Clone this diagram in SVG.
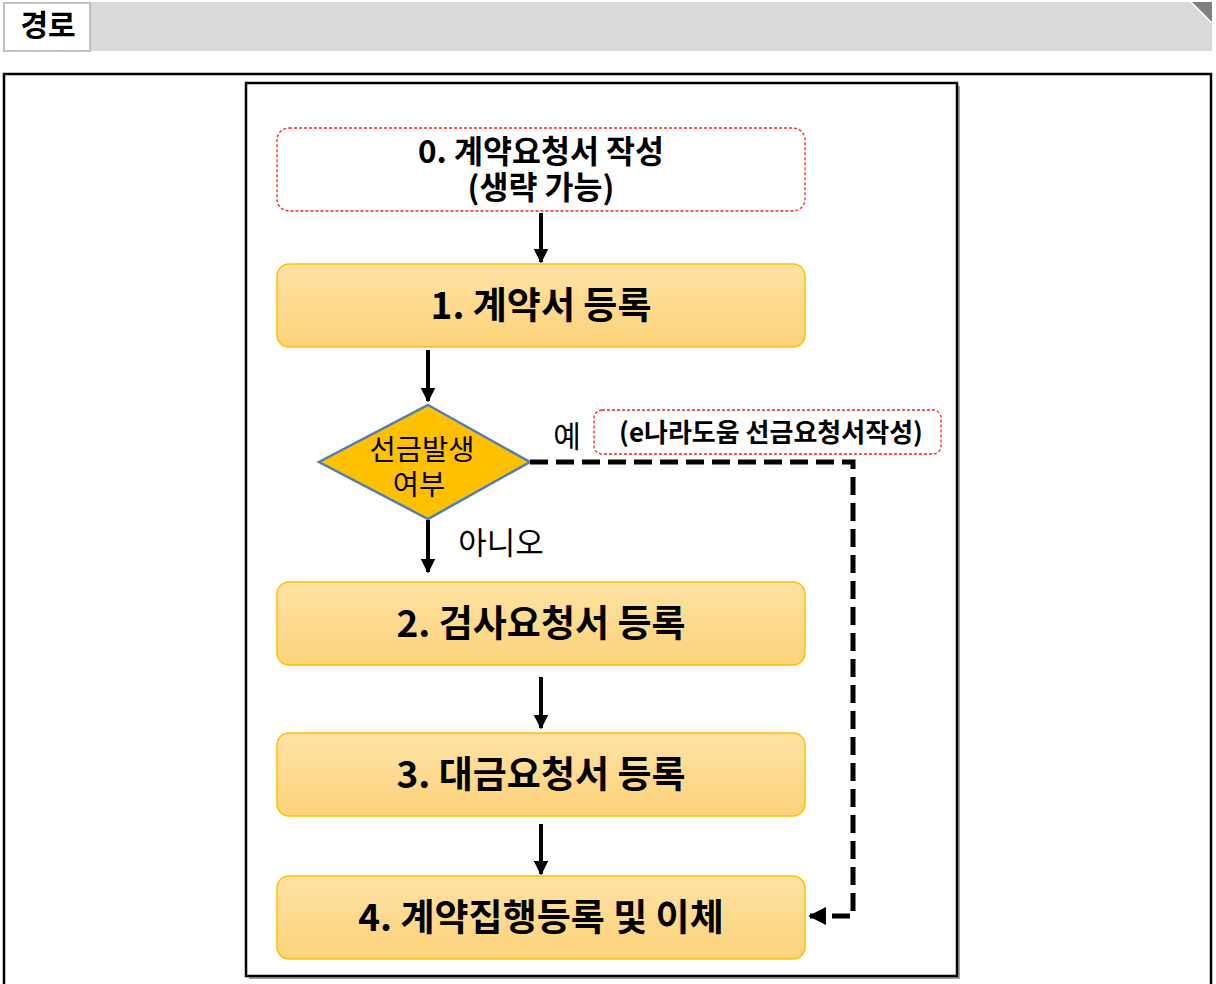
<svg xmlns="http://www.w3.org/2000/svg" width="1216" height="984" viewBox="0 0 1216 984">
<defs>
<linearGradient id="g" x1="0" y1="0" x2="0" y2="1">
<stop offset="0" stop-color="#fee2a4"/>
<stop offset="1" stop-color="#fdd27a"/>
</linearGradient>
<marker id="ah" viewBox="0 0 10 10" refX="9" refY="5" markerWidth="3.6" markerHeight="3.6" orient="auto" markerUnits="strokeWidth">
<path d="M0,0 L10,5 L0,10 z" fill="#000"/>
</marker>
<style>
.t{font-family:"Noto Sans CJK KR","Noto Sans",sans-serif;fill:#000;text-anchor:middle}
.box{fill:url(#g);stroke:#ffc000;stroke-width:1.5}
.dash{fill:#fff;stroke:#ff2020;stroke-width:1.3;stroke-dasharray:3 2}
.big{font-size:37px;font-weight:700}
.c{stroke:#000;stroke-width:4;fill:none}
</style>
</defs>
<rect width="1216" height="984" fill="#fff"/>
<g id="header">
<path d="M3,2 H1190 L1212,24 V51 H3 z" fill="#d9d9d9"/>
<path d="M1192,2 H1212 V22 z" fill="#808080"/>
<rect x="4" y="3" width="86" height="48" fill="#fff" stroke="#c0c0c0" stroke-width="2"/>
<text class="t" x="48" y="36" font-size="30" font-weight="700">경로</text>
</g>
<rect x="4" y="74" width="1207" height="914" fill="none" stroke="#000" stroke-width="2.5"/>
<rect x="249" y="86" width="711" height="893" fill="#a0a0a0"/>
<rect x="246" y="83" width="711" height="893" fill="#fff" stroke="#000" stroke-width="2.5"/>
<g id="n0">
<rect class="dash" x="277" y="128" width="528" height="83" rx="12"/>
<text class="t" font-size="31.5" font-weight="700"><tspan x="541" y="163">0. 계약요청서 작성</tspan><tspan x="541" y="199">(생략 가능)</tspan></text>
</g>
<g id="n1">
<rect class="box" x="277" y="264" width="528" height="83" rx="12"/>
<text class="t big" x="541" y="319">1. 계약서 등록</text>
</g>
<g id="d">
<polygon points="428,405 530,462 428,519 319,462" fill="#ffc000" stroke="#4f7fb3" stroke-width="2.5"/>
<text class="t" font-size="28.5"><tspan x="422" y="460">선금발생</tspan><tspan x="419" y="495">여부</tspan></text>
</g>
<g id="n1b">
<rect class="dash" x="594" y="410" width="347" height="44" rx="8"/>
<text class="t" x="771" y="442" font-size="26" font-weight="700">(e나라도움 선금요청서작성)</text>
</g>
<g id="n2">
<rect class="box" x="277" y="582" width="528" height="83" rx="12"/>
<text class="t big" x="541" y="637">2. 검사요청서 등록</text>
</g>
<g id="n3">
<rect class="box" x="277" y="733" width="528" height="83" rx="12"/>
<text class="t big" x="541" y="788">3. 대금요청서 등록</text>
</g>
<g id="n4">
<rect class="box" x="277" y="876" width="528" height="83" rx="12"/>
<text class="t big" x="541" y="931">4. 계약집행등록 및 이체</text>
</g>
<g id="connectors">
<line class="c" x1="541" y1="213" x2="541" y2="262" marker-end="url(#ah)"/>
<line class="c" x1="428" y1="350" x2="428" y2="401" marker-end="url(#ah)"/>
<line class="c" x1="428" y1="520" x2="428" y2="572" marker-end="url(#ah)"/>
<line class="c" x1="541" y1="677" x2="541" y2="728" marker-end="url(#ah)"/>
<line class="c" x1="541" y1="824" x2="541" y2="874" marker-end="url(#ah)"/>
<path d="M530,462 H853 V916 H810" stroke="#000" stroke-width="5" fill="none" stroke-dasharray="18 8" marker-end="url(#ah)"/>
<text class="t" x="567" y="447" font-size="30">예</text>
<text class="t" x="501" y="554" font-size="31">아니오</text>
</g>
</svg>
